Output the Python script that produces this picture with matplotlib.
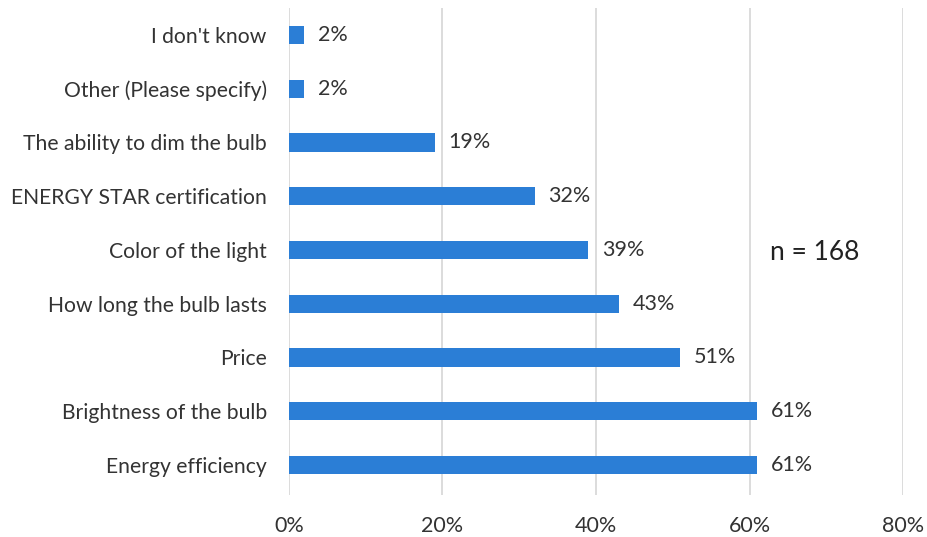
import matplotlib.pyplot as plt
from matplotlib.ticker import PercentFormatter

# Encuesta: factores al comprar bombillas (n = 168)
categories = [
    "Energy efficiency",
    "Brightness of the bulb",
    "Price",
    "How long the bulb lasts",
    "Color of the light",
    "ENERGY STAR certification",
    "The ability to dim the bulb",
    "Other (Please specify)",
    "I don't know",
]
percents = [61, 61, 51, 43, 39, 32, 19, 2, 2]
x_ticks = [0, 20, 40, 60, 80]

plt.rcParams["font.family"] = ["Lato", "DejaVu Sans"]

fig = plt.figure(figsize=(9.28, 5.37), dpi=100)
ax = fig.add_axes([0.3114, 0.078, 0.6617, 0.907])

pos = list(range(len(categories)))
ax.barh(pos, percents, height=0.34, color="#2B7ED6", zorder=3)

for y, v in zip(pos, percents):
    ax.text(v + 1.8, y, f"{v}%", va="center", ha="left", fontsize=15.5, color="#333333")

ax.text(62.7, 3.96, "n = 168", va="center", ha="left", fontsize=19, color="#222222")

ax.set_xlim(0, 80)
ax.set_ylim(-0.56, 8.5)
ax.set_xticks(x_ticks)
ax.xaxis.set_major_formatter(PercentFormatter(decimals=0))
ax.set_yticks(pos)
ax.set_yticklabels(categories)
ax.tick_params(axis="x", length=0, pad=15, labelsize=15.5, labelcolor="#333333")
ax.tick_params(axis="y", length=0, pad=16, labelsize=15.2, labelcolor="#333333")
ax.grid(axis="x", color="#D9D9D9", linewidth=1.3, zorder=0)
for s in ax.spines.values():
    s.set_visible(False)

plt.savefig("out.png", dpi=100)
plt.close()
